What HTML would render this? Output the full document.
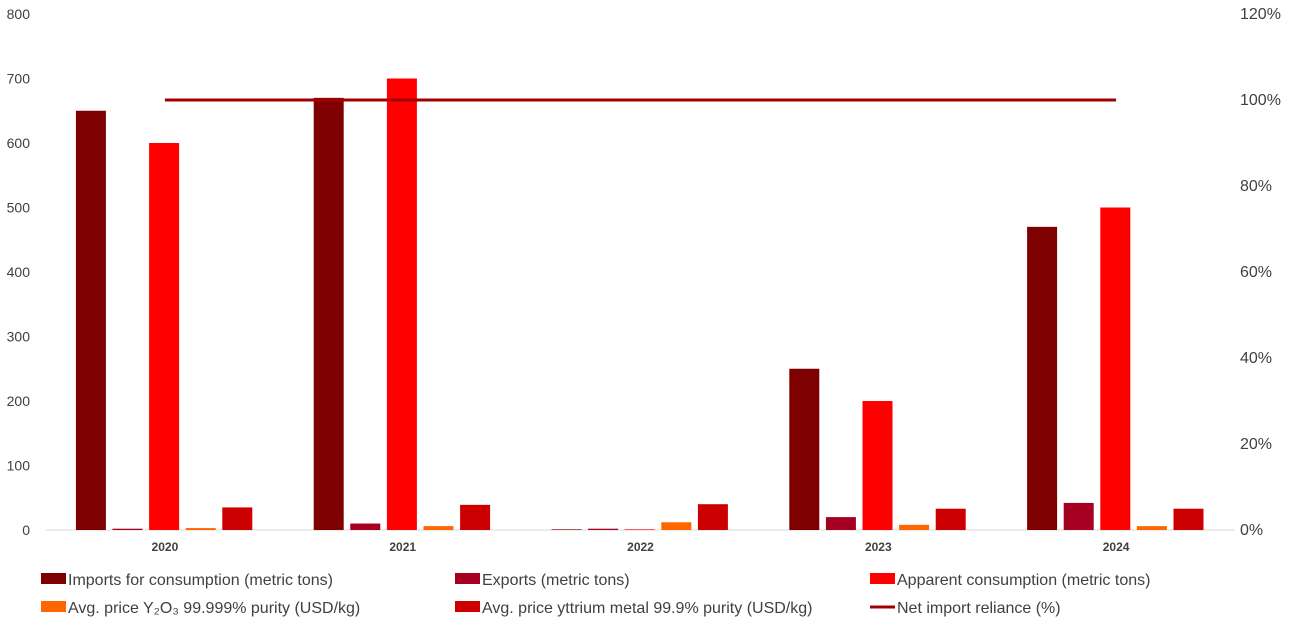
<!DOCTYPE html>
<html><head><meta charset="utf-8"><style>
body{margin:0;background:#fff;}
svg text{font-family:"Liberation Sans",sans-serif;fill:#404040;}
</style></head><body>
<svg id="chart" width="1297" height="624" xmlns="http://www.w3.org/2000/svg"></svg>
<script>
const years = ['2020','2021','2022','2023','2024'];
const imports = [650, 670, 1, 250, 470];
const exportsT = [2, 10, 2, 20, 42];
const apparent = [600, 700, 1, 200, 500];
const priceOxide = [3, 6, 12, 8, 6];
const priceMetal = [35, 39, 40, 33, 33];
const reliance = [100, 100, 100, 100, 100];
const leftTicks = [0,100,200,300,400,500,600,700,800];
const rightTicks = [0,20,40,60,80,100,120];

const svg = document.getElementById('chart');
const NS = 'http://www.w3.org/2000/svg';
const y0 = 530, yTop = 14, plotL = 46, plotR = 1235;
const yL = v => y0 - (v/800)*(y0-yTop);
const yR = v => y0 - (v/120)*(y0-yTop);
const step = (plotR-plotL)/years.length;
const xC = i => plotL + step*(i+0.5);
function mk(tag, attrs){const e=document.createElementNS(NS,tag);for(const k in attrs)e.setAttribute(k,attrs[k]);svg.appendChild(e);return e;}

leftTicks.forEach(t=>{
  const e=mk('text',{x:30,y:yL(t)+5,'text-anchor':'end','font-size':14});
  e.textContent=t;
  
  
});
rightTicks.forEach(t=>{
  const e=mk('text',{x:1240,y:yR(t)+5,'font-size':16});
  e.textContent=t+'%';
  
  
});
const ax=mk('line',{x1:plotL,x2:plotR,y1:y0,y2:y0,stroke:'#d9d9d9','stroke-width':1});



const series=[[imports,'#7f0000','imports'],[exportsT,'#a50021','exports'],[apparent,'#ff0000','apparent-consumption'],[priceOxide,'#ff6600','price-oxide'],[priceMetal,'#cc0000','price-metal']];
const bw=30, bstep=36.6;
years.forEach((yr,i)=>{
  series.forEach((s,j)=>{
    const x=xC(i)-89+j*bstep;
    const v=s[0][i];
    const r=mk('rect',{x:x,y:yL(v),width:bw,height:y0-yL(v),fill:s[1]});
    
    
  });
  const t=mk('text',{x:xC(i),y:551,'text-anchor':'middle','font-size':12,'font-weight':'bold'});
  t.textContent=yr;
  
  
});
const pts=reliance.map((v,i)=>xC(i)+','+yR(v)).join(' ');
const pl=mk('polyline',{points:pts,fill:'none',stroke:'#a00000','stroke-width':3});



const legend=[['Imports for consumption (metric tons)','#7f0000',41,579,'rect'],['Exports (metric tons)','#a50021',455,579,'rect'],['Apparent consumption (metric tons)','#ff0000',870,579,'rect'],['Avg. price Y\u2082O\u2083 99.999% purity (USD/kg)','#ff6600',41,607,'rect'],['Avg. price yttrium metal 99.9% purity (USD/kg)','#cc0000',455,607,'rect'],['Net import reliance (%)','#a00000',870,607,'line']];
legend.forEach(l=>{
  let sw;
  if(l[4]==='rect') sw=mk('rect',{x:l[2],y:l[3]-6,width:25,height:11,fill:l[1]});
  else sw=mk('line',{x1:l[2],x2:l[2]+25,y1:l[3],y2:l[3],stroke:l[1],'stroke-width':3});
  
  
  const t=mk('text',{x:l[2]+27,y:l[3]+6,'font-size':16});
  t.textContent=l[0];
  
  
});
</script>
</body></html>
